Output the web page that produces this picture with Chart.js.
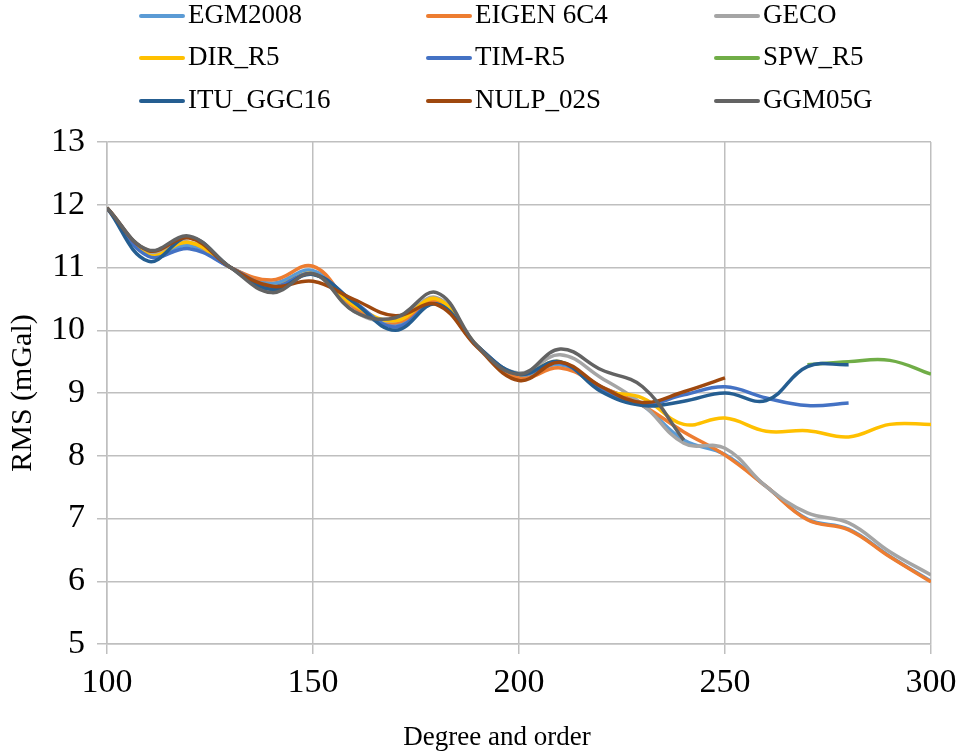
<!DOCTYPE html>
<html>
<head>
<meta charset="utf-8">
<script src="https://cdn.jsdelivr.net/npm/chart.js@4.4.0/dist/chart.umd.min.js"></script>
<style>
  html, body { margin: 0; padding: 0; background: #fff; }
  #wrap { width: 957px; height: 754px; position: relative; }
</style>
</head>
<body>
<div id="wrap"><canvas id="rmsChart"></canvas></div>
<script>
// degree and order (x values), every 10
const degrees = [100, 110, 120, 130, 140, 150, 160, 170, 180, 190, 200, 210, 220, 230, 240, 250, 260, 270, 280, 290, 300]
const xTicks = [100, 150, 200, 250, 300]
const yTicks = [5, 6, 7, 8, 9, 10, 11, 12, 13]

// RMS (mGal) per model, null where the model has no value
const egm2008 = [11.95, 11.2, 11.35, 11.0, 10.75, 10.95, 10.4, 10.1, 10.45, 9.74, 9.28, 9.45, 9.1, 8.8, 8.25, 8.02, 7.51, 6.99, 6.83, 6.4, 6.0]
const eigen6c4 = [11.95, 11.25, 11.4, 11.0, 10.8, 11.02, 10.36, 10.12, 10.45, 9.74, 9.24, 9.4, 9.1, 8.8, 8.38, 8.01, 7.51, 6.98, 6.82, 6.39, 5.99]
const geco = [11.95, 11.24, 11.4, 11.0, 10.65, 10.9, 10.3, 10.15, 10.52, 9.73, 9.32, 9.61, 9.24, 8.82, 8.2, 8.12, 7.51, 7.09, 6.93, 6.47, 6.1]
const dirR5 = [11.95, 11.2, 11.4, 11.0, 10.7, 10.9, 10.4, 10.15, 10.5, 9.74, 9.3, 9.5, 9.05, 8.92, 8.5, 8.6, 8.39, 8.4, 8.3, 8.5, 8.5]
const timR5 = [11.95, 11.18, 11.3, 11.0, 10.7, 10.9, 10.45, 10.05, 10.42, 9.74, 9.3, 9.48, 9.05, 8.82, 8.97, 9.1, 8.92, 8.8, 8.84, null, null]
const spwR5 = [null, null, null, null, null, null, null, null, null, null, null, null, null, null, null, null, null, 9.45, 9.5, 9.52, 9.3]
const ituGgc16 = [11.95, 11.1, 11.48, 11.0, 10.65, 10.89, 10.44, 10.0, 10.42, 9.74, 9.3, 9.5, 9.02, 8.8, 8.87, 9.0, 8.88, 9.42, 9.45, null, null]
const nulp02s = [11.95, 11.27, 11.47, 11.0, 10.7, 10.78, 10.49, 10.23, 10.41, 9.72, 9.2, 9.49, 9.1, 8.85, 9.02, 9.24, null, null, null, null, null]
const ggm05g = [11.95, 11.28, 11.5, 11.0, 10.6, 10.9, 10.3, 10.2, 10.6, 9.74, 9.3, 9.7, 9.37, 9.1, 8.25, null, null, null, null, null, null]

const seriesNames = ["EGM2008", "EIGEN 6C4", "GECO", "DIR_R5", "TIM-R5", "SPW_R5", "ITU_GGC16", "NULP_02S", "GGM05G"]
const seriesValues = [egm2008, eigen6c4, geco, dirR5, timR5, spwR5, ituGgc16, nulp02s, ggm05g]
const seriesColors = ["#5B9BD5", "#ED7D31", "#A5A5A5", "#FFC000", "#4472C4", "#70AD47", "#255E91", "#9E480E", "#636363"]

const FONT = "'Liberation Serif', 'Times New Roman', serif"
Chart.defaults.font.family = FONT
Chart.defaults.color = "#000"

const datasets = seriesNames.map((name, i) => ({
  label: name,
  data: degrees.map((d, j) => ({ x: d, y: seriesValues[i][j] })).filter((p) => p.y !== null),
  borderColor: seriesColors[i],
  backgroundColor: seriesColors[i],
  borderWidth: 3.5,
  pointRadius: 0,
  tension: 0.4,
  fill: false,
  // later series drawn on top, like the original
  order: seriesNames.length - i,
}))

// legend in three columns above the plot, x axis title below
const gridLegend = {
  id: "gridLegend",
  afterDraw(chart) {
    const ctx = chart.ctx
    const colX = [141, 428, 716]
    const rowY = [16, 58, 101]
    ctx.save()
    ctx.font = "27px " + FONT
    ctx.textBaseline = "middle"
    ctx.textAlign = "left"
    chart.data.datasets.forEach((ds, i) => {
      const x = colX[i % 3]
      const y = rowY[Math.floor(i / 3)]
      ctx.strokeStyle = ds.borderColor
      ctx.lineWidth = 4
      ctx.lineCap = "round"
      ctx.beginPath()
      ctx.moveTo(x, y)
      ctx.lineTo(x + 42, y)
      ctx.stroke()
      ctx.fillStyle = "#000"
      ctx.fillText(ds.label, x + 47, y)
    })

    ctx.textAlign = "center"
    ctx.fillText("Degree and order", 497, 738)
    ctx.restore()
  },
}

const chart = new Chart(document.getElementById("rmsChart"), {
  type: "line",
  data: { datasets },
  plugins: [gridLegend],
  options: {
    responsive: true,
    maintainAspectRatio: false,
    animation: false,
    layout: { padding: { top: 142, right: 26, left: 0, bottom: 0 } },
    plugins: {
      legend: { display: false },
      tooltip: { enabled: false },
    },
    scales: {
      x: {
        type: "linear",
        min: 100,
        max: 300,
        afterBuildTicks: (scale) => {
          scale.ticks = xTicks.map((v) => ({ value: v }))
        },
        afterFit: (scale) => {
          scale.height = 110
          scale.paddingLeft = 0
          scale.paddingRight = 0
        },
        grid: { color: "#BFBFBF", lineWidth: 1.5, tickLength: 10 },
        border: { color: "#BFBFBF", width: 1.5 },
        ticks: { font: { size: 34 }, padding: 9, maxRotation: 0 },
      },
      y: {
        min: 5,
        max: 13,
        afterBuildTicks: (scale) => {
          scale.ticks = yTicks.map((v) => ({ value: v }))
        },
        afterFit: (scale) => {
          scale.width = 107
        },
        grid: { color: "#BFBFBF", lineWidth: 1.5, tickLength: 10 },
        border: { color: "#BFBFBF", width: 1.5 },
        ticks: { font: { size: 34 }, padding: 12 },
        title: {
          display: true,
          text: "RMS (mGal)",
          font: { size: 30 },
          padding: { top: 5, bottom: 0 },
        },
      },
    },
  },
})
</script>
</body>
</html>
